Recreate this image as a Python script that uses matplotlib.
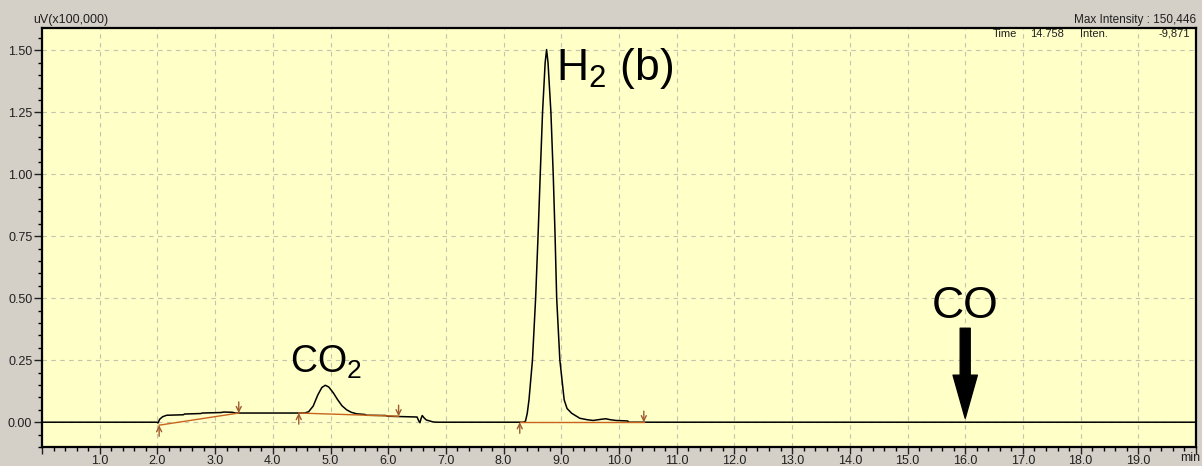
import matplotlib
matplotlib.use("Agg")
import matplotlib.pyplot as plt
from matplotlib.ticker import FixedLocator, MultipleLocator, FuncFormatter

plt.rcParams['font.family'] = ['Liberation Sans', 'DejaVu Sans']
plt.rcParams['mathtext.default'] = 'regular'

# chromatogram trace (time in min, intensity in uV x 100,000)
time_min = [0.00, 1.99, 2.01, 2.04, 2.09, 2.16, 2.45, 2.47, 2.75, 2.78, 3.10,
            3.15, 3.30, 3.35, 3.45, 4.55, 4.62, 4.70, 4.78, 4.85, 4.91, 4.97,
            5.05, 5.12, 5.20, 5.28, 5.36, 5.45, 5.60, 5.62, 5.95, 6.00, 6.50,
            6.53, 6.55, 6.57, 6.59, 6.62, 6.66, 6.72, 6.78, 6.85, 8.35, 8.38,
            8.41, 8.44, 8.50, 8.555, 8.60, 8.635, 8.675, 8.72, 8.745, 8.77,
            8.82, 8.86, 8.89, 8.92, 8.975, 9.05, 9.10, 9.18, 9.32, 9.45, 9.55,
            9.70, 9.77, 9.85, 9.95, 10.15, 10.17, 20.00]
intensity = [0.000, 0.000, -0.003, 0.012, 0.022, 0.028, 0.030, 0.033, 0.035,
             0.037, 0.039, 0.041, 0.040, 0.037, 0.037, 0.037, 0.042, 0.065,
             0.110, 0.140, 0.149, 0.142, 0.118, 0.092, 0.066, 0.050, 0.040,
             0.034, 0.031, 0.028, 0.027, 0.024, 0.021, 0.005, -0.002, 0.015,
             0.027, 0.018, 0.009, 0.005, 0.001, 0.000, 0.000, 0.005, 0.036,
             0.090, 0.250, 0.500, 0.770, 1.000, 1.250, 1.450, 1.503, 1.450,
             1.250, 1.000, 0.770, 0.500, 0.250, 0.090, 0.055, 0.036, 0.016,
             0.010, 0.007, 0.012, 0.014, 0.010, 0.007, 0.005, 0.000, 0.000]

# integration baselines: (start time, end time), (start value, end value)
base_times = [(2.03, 3.41), (4.45, 6.18), (8.28, 10.43)]
base_values = [(-0.012, 0.037), (0.037, 0.024), (0.000, 0.000)]

x_ticks = [float(i) for i in range(0, 21)]
y_ticks = [0.00, 0.25, 0.50, 0.75, 1.00, 1.25, 1.50]

fig = plt.figure(figsize=(12.02, 4.66), dpi=100, facecolor='#d4d0c8')
ax = fig.add_axes([42 / 1202, 19 / 466, 1154 / 1202, 419 / 466])
ax.set_facecolor('#ffffc8')

ax.plot(time_min, intensity, color='black', lw=1.1, zorder=3)

marker_style = dict(arrowstyle='->', color='#a05a30', lw=1.0,
                    shrinkA=0, shrinkB=0, mutation_scale=9)
for (t0, t1), (v0, v1) in zip(base_times, base_values):
    ax.plot([t0, t1], [v0, v1], color='#c8641e', lw=1.0, zorder=4)
    ax.annotate('', xy=(t0, v0), xytext=(0, -8), textcoords='offset points',
                arrowprops=marker_style)
    ax.annotate('', xy=(t1, v1), xytext=(0, 8), textcoords='offset points',
                arrowprops=marker_style)

ax.set_xlim(0, 20)
ax.set_ylim(-0.10, 1.59)

ax.xaxis.set_major_locator(FixedLocator(x_ticks))
ax.xaxis.set_minor_locator(MultipleLocator(0.2))
ax.xaxis.set_major_formatter(FuncFormatter(
    lambda v, p: '' if v < 0.5 or v > 19.5 else '%.1f' % v))
ax.yaxis.set_major_locator(FixedLocator(y_ticks))
ax.yaxis.set_minor_locator(MultipleLocator(0.05))
ax.yaxis.set_major_formatter(FuncFormatter(lambda v, p: '%.2f' % v))

ax.tick_params(axis='x', which='major', length=5, width=1, pad=1,
               labelsize=9, colors='#202020')
ax.tick_params(axis='x', which='minor', length=3, width=1)
ax.tick_params(axis='y', which='major', length=6, width=1, pad=1,
               labelsize=9, colors='#202020')
ax.tick_params(axis='y', which='minor', length=3, width=1)

ax.grid(which='major', linestyle=(0, (4, 4)), color='#c4c3ad', lw=0.8,
        zorder=1)
ax.set_axisbelow(True)
for side in ax.spines.values():
    side.set_linewidth(1.6)
    side.set_color('black')

# peak labels
ax.text(8.91, 1.379, 'H$_2$ (b)', fontsize=32, ha='left', va='baseline')
ax.text(4.30, 0.20, 'CO$_2$', fontsize=27, ha='left', va='baseline')
ax.text(16.0, 0.42, 'CO', fontsize=32, ha='center', va='baseline')
ax.annotate('', xy=(16.0, 0.016), xytext=(16.0, 0.379),
            arrowprops=dict(facecolor='black', edgecolor='black',
                            width=7.2, headwidth=17.5, headlength=31))

# header texts
fig.text(33 / 1202, 1 - 20 / 466, 'uV(x100,000)', fontsize=9,
         ha='left', va='center', color='#202020')
fig.text(1196 / 1202, 1 - 20 / 466, 'Max Intensity : 150,446', fontsize=8.5,
         ha='right', va='center', color='#202020')
status_row = [('Time', 993, 'left'), ('14.758', 1030, 'left'),
              ('Inten.', 1080, 'left'), ('-9,871', 1190, 'right')]
for label, px, align in status_row:
    fig.text(px / 1202, 1 - 34 / 466, label, fontsize=8, ha=align,
             va='center', color='#202020')
fig.text(1190 / 1202, 1 - 458 / 466, 'min', fontsize=9, ha='center',
         va='center', color='#202020')

fig.savefig('out.png', dpi=100, facecolor=fig.get_facecolor())
